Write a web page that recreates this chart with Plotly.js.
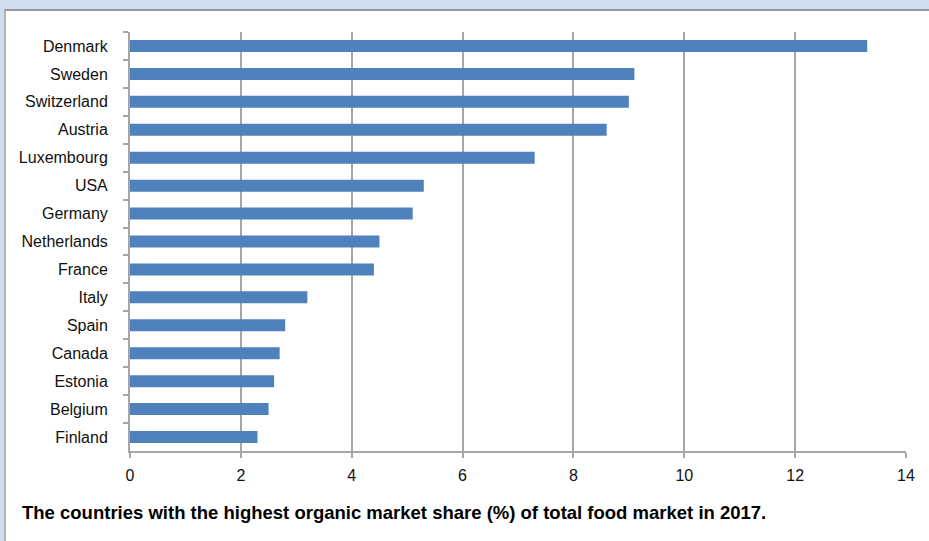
<!DOCTYPE html>
<html>
<head>
<meta charset="utf-8">
<script src="https://cdn.plot.ly/plotly-3.0.1.min.js"></script>
<style>
html, body { margin: 0; padding: 0; width: 929px; height: 541px; overflow: hidden; background: #CFDDEE; }
#frame { position: absolute; left: 4px; top: 9px; width: 940px; height: 545px; background: #ffffff; border-top: 2px solid #9a9a9a; border-left: 2px solid #b0b0b0; }
#chart { position: absolute; left: 0; top: 0; width: 929px; height: 541px; }
</style>
</head>
<body>
<div id="frame"></div>
<div id="chart"></div>
<script>
const countries = ["Denmark","Sweden","Switzerland","Austria","Luxembourg","USA","Germany","Netherlands","France","Italy","Spain","Canada","Estonia","Belgium","Finland"];
const shares = [13.3, 9.1, 9.0, 8.6, 7.3, 5.3, 5.1, 4.5, 4.4, 3.2, 2.8, 2.7, 2.6, 2.5, 2.3];
const xTicks = [0, 2, 4, 6, 8, 10, 12, 14];
const caption = "The countries with the highest organic market share (%) of total food market in 2017.";

const FONT = "'Liberation Sans', Arial, sans-serif";

const trace = {
  type: "bar",
  orientation: "h",
  x: shares,
  y: countries,
  marker: { color: "#4F81BD", line: { width: 0 } },
  hoverinfo: "x+y"
};

const layout = {
  width: 929,
  height: 541,
  margin: { l: 130, r: 23, t: 32, b: 90 },
  paper_bgcolor: "rgba(0,0,0,0)",
  plot_bgcolor: "rgba(0,0,0,0)",
  bargap: 0.57,
  showlegend: false,
  font: { family: FONT, size: 16, color: "#111111" },
  title: {
    text: "<b>" + caption + "</b>",
    font: { family: FONT, size: 18.5, color: "#000000" },
    xref: "container", yref: "container",
    x: 22 / 929, xanchor: "left",
    y: 1 - 513 / 541, yanchor: "middle"
  },
  xaxis: {
    range: [0, 14],
    tickvals: xTicks,
    ticktext: xTicks.map(String),
    showgrid: true,
    gridcolor: "#a6a6a6",
    gridwidth: 2,
    zeroline: false,
    showline: true,
    linecolor: "#a6a6a6",
    linewidth: 2,
    ticks: "outside",
    ticklen: 5,
    tickwidth: 2,
    tickcolor: "#a6a6a6",
    ticklabelstandoff: 4,
    tickfont: { family: FONT, size: 16, color: "#111111" },
    fixedrange: true
  },
  yaxis: {
    type: "category",
    categoryorder: "array",
    categoryarray: countries,
    autorange: "reversed",
    showgrid: false,
    zeroline: false,
    showline: true,
    linecolor: "#a6a6a6",
    linewidth: 2,
    ticks: "outside",
    tickson: "boundaries",
    ticklen: 5,
    tickwidth: 2,
    tickcolor: "#a6a6a6",
    ticklabelstandoff: 17,
    tickfont: { family: FONT, size: 16, color: "#111111" },
    fixedrange: true
  }
};

Plotly.newPlot("chart", [trace], layout, { displayModeBar: false, staticPlot: true });
</script>
</body>
</html>
